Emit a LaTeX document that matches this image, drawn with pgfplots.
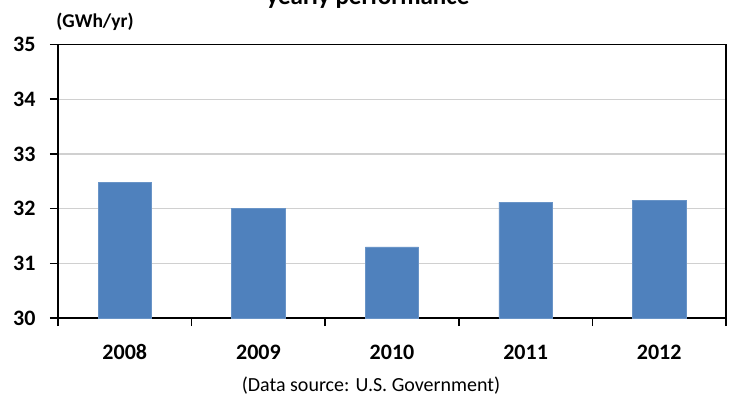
\documentclass[border=0pt]{standalone}
\usepackage{fontspec}
\setmainfont{Carlito}
\usepackage{pgfplots}
\pgfplotsset{compat=1.18}
\definecolor{barblue}{HTML}{4F81BD}
\definecolor{gridgray}{HTML}{D0D0D0}

\begin{document}
\begin{tikzpicture}[x=1bp,y=1bp]
\begin{axis}[
  at={(0,0)}, anchor=south west,
  scale only axis,
  width=668bp, height=273.5bp,
  xmin=-0.5, xmax=4.5,
  ymin=30, ymax=35,
  ytick={30,31,32,33,34,35},
  xtick={0,1,2,3,4},
  xticklabels={2008,2009,2010,2011,2012},
  minor xtick={-0.5,0.5,1.5,2.5,3.5,4.5},
  tick align=outside,
  major tick length=8bp,
  minor tick length=8bp,
  xtick pos=bottom, ytick pos=left,
  major x tick style={draw=none},
  minor x tick style={black, line width=1.6bp},
  major y tick style={black, line width=1.6bp},
  axis line style={black, line width=1.6bp},
  ymajorgrids,
  major grid style={gridgray, line width=1.4bp},
  /pgf/number format/assume math mode=true,
  ticklabel style={font=\bfseries\fontsize{22bp}{24bp}\selectfont},
  xticklabel style={anchor=base, yshift=-33.5bp},
  yticklabel style={xshift=-11bp},
  ybar, bar width=0.4,
]
\addplot[fill=barblue, draw=barblue!85!white, line width=0.6bp]
  coordinates {(0,32.48) (1,32.0) (2,31.30) (3,32.12) (4,32.15)};
\end{axis}

% unit label, title and source note
\node[font=\bfseries\fontsize{19.5bp}{22bp}\selectfont] at (37,296.5) {(GWh/yr)};
\node[anchor=base, font=\bfseries\fontsize{25bp}{28bp}\selectfont] at (310,314) {yearly performance};
\node[anchor=base, font=\fontsize{20bp}{22bp}\selectfont] at (313,-73) {(Data source: U.S. Government)};

\pgfresetboundingbox
\path[use as bounding box] (-58,-80) rectangle (672,318);
\end{tikzpicture}
\end{document}
